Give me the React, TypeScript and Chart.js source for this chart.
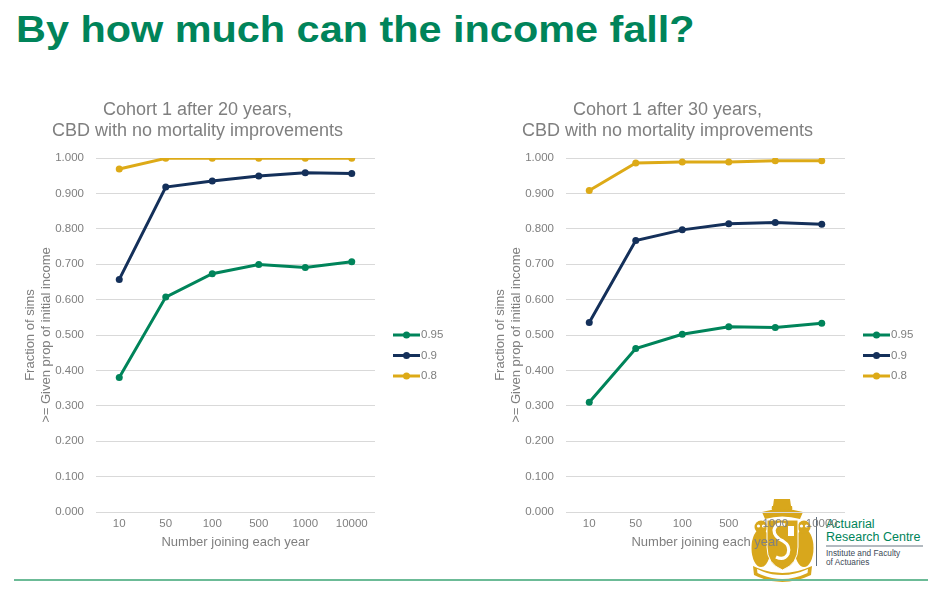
import React, { useEffect, useRef } from 'react';
import { Chart, registerables } from 'chart.js';

Chart.register(...registerables);

const categories = ['10', '50', '100', '500', '1000', '10000'];
const seriesLabels = ['0.95', '0.9', '0.8'];
const seriesColors = ['#00845A', '#14305A', '#DDAA17'];

const left095 = [0.38, 0.607, 0.673, 0.699, 0.691, 0.707];
const left090 = [0.657, 0.918, 0.935, 0.949, 0.958, 0.956];
const left080 = [0.969, 0.999, 0.999, 0.999, 0.999, 0.999];

const right095 = [0.31, 0.462, 0.502, 0.523, 0.521, 0.533];
const right090 = [0.535, 0.767, 0.797, 0.814, 0.818, 0.813];
const right080 = [0.908, 0.986, 0.989, 0.989, 0.992, 0.992];

const leftTitle = ['Cohort 1 after 20 years,', 'CBD with no mortality improvements'];
const rightTitle = ['Cohort 1 after 30 years,', 'CBD with no mortality improvements'];
const yAxisTitle = ['Fraction of sims', '>= Given prop of initial income'];
const xAxisTitle = 'Number joining each year';

const FONT = '"Liberation Sans", Arial, sans-serif';
const GRAY = '#7f7f7f';

function makeLegendPlugin() {
  return {
    id: 'sideLegend',
    afterDraw(chart: any) {
      const { ctx, chartArea } = chart;
      chart.data.datasets.forEach((ds: any, i: number) => {
        const y = chartArea.top + 177 + i * 20.5;
        const x0 = chartArea.right + 18;
        ctx.save();
        ctx.strokeStyle = ds.borderColor;
        ctx.lineWidth = 3;
        ctx.beginPath();
        ctx.moveTo(x0, y);
        ctx.lineTo(x0 + 27, y);
        ctx.stroke();
        ctx.fillStyle = ds.borderColor;
        ctx.beginPath();
        ctx.arc(x0 + 13.5, y, 3.5, 0, Math.PI * 2);
        ctx.fill();
        ctx.fillStyle = GRAY;
        ctx.font = '11.5px ' + FONT;
        ctx.textBaseline = 'middle';
        ctx.textAlign = 'left';
        ctx.fillText(ds.label, x0 + 28, y);
        ctx.restore();
      });
    },
  };
}

function ChartPanel(props: { title: string[]; s1: number[]; s2: number[]; s3: number[]; left: number }) {
  const ref = useRef<HTMLCanvasElement | null>(null);
  useEffect(() => {
    if (!ref.current) return;
    const values = [props.s1, props.s2, props.s3];
    const chart = new Chart(ref.current, {
      type: 'line',
      data: {
        labels: categories,
        datasets: values.map((v, i) => ({
          label: seriesLabels[i],
          data: v,
          borderColor: seriesColors[i],
          backgroundColor: seriesColors[i],
          borderWidth: 3,
          pointRadius: 3.5,
          pointHoverRadius: 3.5,
          pointBorderWidth: 0,
          tension: 0,
        })),
      },
      options: {
        animation: false,
        responsive: false,
        maintainAspectRatio: false,
        layout: { padding: { left: 0, right: 75, top: 0, bottom: 0 } },
        plugins: {
          legend: { display: false },
          tooltip: { enabled: false },
          title: {
            display: true,
            text: props.title,
            color: GRAY,
            font: { family: FONT, size: 18, weight: 'normal', lineHeight: 1.15 },
            padding: { top: 9.6, bottom: 17 },
          },
        },
        scales: {
          x: {
            offset: true,
            grid: { display: false, drawTicks: false },
            border: { display: false },
            ticks: { color: GRAY, font: { family: FONT, size: 11.5 }, padding: 5, maxRotation: 0, autoSkip: false },
            title: {
              display: true,
              text: xAxisTitle,
              color: GRAY,
              font: { family: FONT, size: 13, lineHeight: 1.2 },
              padding: { top: 0, bottom: 9.5 },
            },
            afterFit(scale: any) {
              scale.height = 48;
            },
          },
          y: {
            min: 0,
            max: 1,
            grid: { color: '#d9d9d9', lineWidth: 1, drawTicks: false },
            border: { display: false },
            ticks: {
              stepSize: 0.1,
              color: GRAY,
              font: { family: FONT, size: 11.5 },
              padding: 12,
              callback: (v: any) => Number(v).toFixed(3),
            },
            title: {
              display: true,
              text: yAxisTitle,
              color: GRAY,
              font: { family: FONT, size: 13, lineHeight: 1.2 },
              padding: { top: 3, bottom: 0 },
            },
            afterFit(scale: any) {
              scale.width = 76;
            },
          },
        },
      } as any,
      plugins: [makeLegendPlugin()],
    });
    return () => chart.destroy();
  }, []);
  return (
    <canvas
      ref={ref}
      width={430}
      height={470}
      style={{ position: 'absolute', left: props.left, top: 90, width: 430, height: 470 }}
    />
  );
}

function Logo() {
  const gold = '#D8A71C';
  return (
    <div style={{ position: 'absolute', left: 0, top: 0, width: 932, height: 590, pointerEvents: 'none' }}>
      <svg width={932} height={590} style={{ position: 'absolute', left: 0, top: 0 }}>
        <path d="M774 499 L790 499 L791 506 L773 506 Z" fill={gold} />
        <path d="M772 506 L792 506 Q794 514 782 516 Q770 514 772 506 Z" fill={gold} />
        <path d="M762 512 Q782 506 803 512 L800 519 Q782 514 765 519 Z" fill={gold} />
        <ellipse cx={761} cy={548} rx={9.5} ry={19} fill={gold} />
        <ellipse cx={804} cy={548} rx={9.5} ry={19} fill={gold} />
        <circle cx={761} cy={527} r={6.5} fill={gold} />
        <circle cx={804} cy={527} r={6.5} fill={gold} />
        <circle cx={758.5} cy={526} r={1.6} fill="#fff" />
        <circle cx={763.5} cy={526} r={1.6} fill="#fff" />
        <circle cx={801.5} cy={526} r={1.6} fill="#fff" />
        <circle cx={806.5} cy={526} r={1.6} fill="#fff" />
        <path d="M767 520 L798 520 L798 547 Q798 564 782.5 570 Q767 564 767 547 Z" fill={gold} stroke="#fff" strokeWidth={1} />
        <path d="M785 525 Q776 522 774 530 Q774 537 783 541 Q791 546 788 554 Q784 561 776 557" fill="none" stroke="#fff" strokeWidth={3.2} />
        <rect x={788} y={526} width={6} height={10} fill="#fff" />
        <path d="M753 566 Q782 580 812 566 L811 575 Q782 589 754 575 Z" fill={gold} />
        <path d="M757 569 Q782 581 808 569 L807.5 573 Q782 585 757.5 573 Z" fill="#fff" />
        <line x1={816.5} y1={517} x2={816.5} y2={566} stroke="#5b6b7b" strokeWidth={1} />
        <line x1={826} y1={546} x2={923} y2={546} stroke="#9aa3ab" strokeWidth={1.5} />
      </svg>
      <div style={{ position: 'absolute', left: 826, top: 518, fontFamily: FONT, fontSize: 12.5, lineHeight: '12.8px', color: '#00845A' }}>
        Actuarial
        <br />
        Research Centre
      </div>
      <div style={{ position: 'absolute', left: 826, top: 549, fontFamily: FONT, fontSize: 8.3, lineHeight: '8.6px', color: '#3d4a57' }}>
        Institute and Faculty
        <br />
        of Actuaries
      </div>
    </div>
  );
}

export default function App() {
  return (
    <div style={{ position: 'fixed', left: 0, top: 0, width: 932, height: 590, background: '#fff', overflow: 'hidden' }}>
      <div
        style={{
          position: 'absolute',
          left: 15.5,
          top: 11.5,
          fontFamily: FONT,
          fontWeight: 'bold',
          fontSize: 36,
          lineHeight: '36px',
          color: '#00845A',
          whiteSpace: 'nowrap',
          transform: 'scaleX(1.15)',
          transformOrigin: 'left top',
        }}
      >
        By how much can the income fall?
      </div>
      <Logo />
      <ChartPanel title={leftTitle} s1={left095} s2={left090} s3={left080} left={20} />
      <ChartPanel title={rightTitle} s1={right095} s2={right090} s3={right080} left={490} />
      <div style={{ position: 'absolute', left: 14, top: 579, width: 914, height: 2, background: '#6CBB97' }} />
    </div>
  );
}
